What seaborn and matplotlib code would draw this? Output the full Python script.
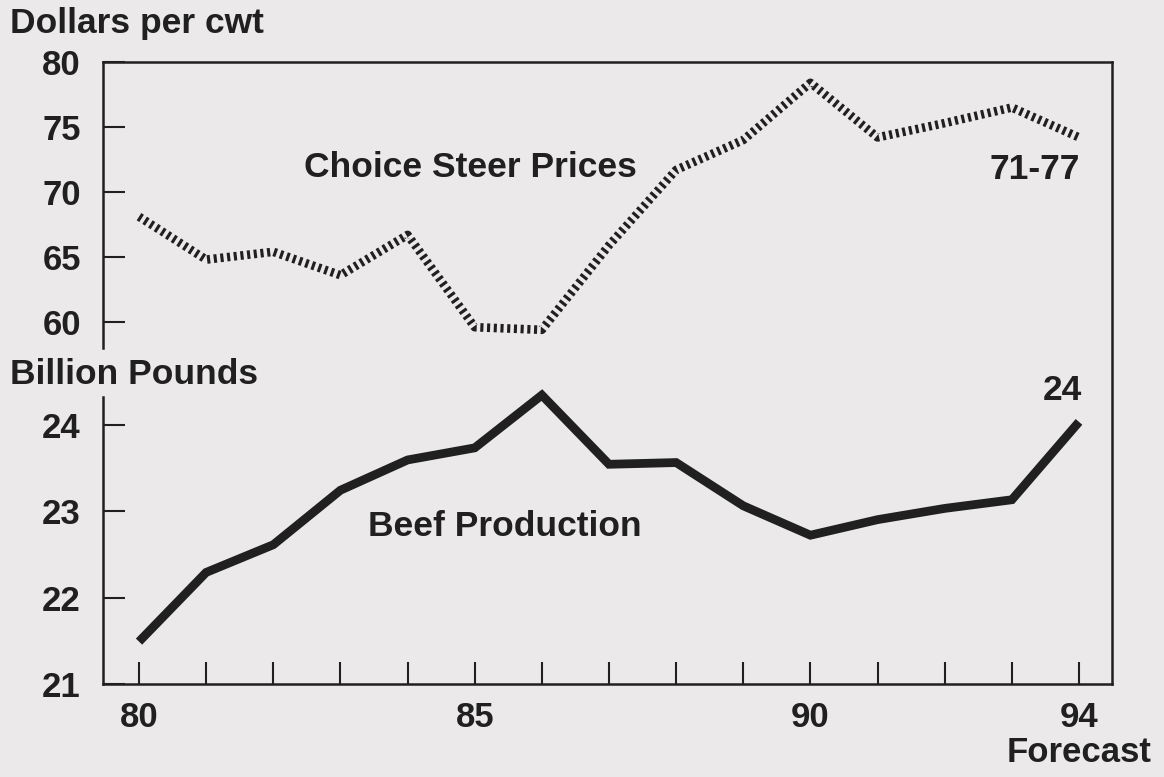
import matplotlib
matplotlib.use('Agg')
import matplotlib.pyplot as plt
import seaborn as sns
import pandas as pd

# data
years = list(range(80, 95))
steer_prices = [68.1, 64.8, 65.4, 63.6, 66.7, 59.6, 59.4, 65.9, 71.7, 74.0,
                78.4, 74.2, 75.3, 76.5, 74.2]
beef_production = [21.49, 22.29, 22.61, 23.24, 23.59, 23.73, 24.34, 23.54, 23.56, 23.06,
                   22.72, 22.90, 23.03, 23.13, 24.03]
price_ticks = [60, 65, 70, 75, 80]
beef_ticks = [21, 22, 23, 24]
x_labels = {80: '80', 85: '85', 90: '90', 94: '94\nForecast'}

df = pd.DataFrame({'year': years, 'price': steer_prices, 'beef': beef_production})

sns.set_theme(style='white')
plt.rcParams['font.family'] = ['Liberation Sans', 'DejaVu Sans']
plt.rcParams['font.weight'] = 'bold'

bg = '#ece9ea'
ink = '#202020'
fs = 25
fs_lab = 25.5

fig = plt.figure(figsize=(11.64, 7.77), dpi=100)
fig.patch.set_facecolor(bg)

# one frame, two scales: price on the top part, beef on the lower part
ax = fig.add_axes([103 / 1164, 93 / 777, 1009 / 1164, 622 / 777])
ax.set_facecolor(bg)
ax_b = ax.twinx()
ax_b.yaxis.tick_left()
ax_b.yaxis.set_label_position('left')

# choice steer prices (hatched line)
sns.lineplot(data=df, x='year', y='price', ax=ax, color=ink, lw=6.2,
             linestyle=(0, (0.36, 0.42)), dash_capstyle='butt')
# beef production (solid)
sns.lineplot(data=df, x='year', y='beef', ax=ax_b, color=ink, lw=6.3,
             solid_capstyle='butt', solid_joinstyle='miter')

ax.set_xlim(80 - 36 / 67.14, 94 + 33 / 67.14)
ax.set_ylim(80 - 622 / 13, 80)
ax_b.set_ylim(21, 21 + 622 / 86.5)

ax.set_xlabel('')
ax.set_ylabel('')
ax_b.set_ylabel('')

ax.set_xticks(years)
ax.set_xticklabels([x_labels.get(y, '') for y in years], fontsize=fs, fontweight='bold',
                   linespacing=1.1)
ax.set_yticks(price_ticks)
ax.set_yticklabels([str(t) for t in price_ticks], fontsize=fs, fontweight='bold')
ax_b.set_yticks(beef_ticks)
ax_b.set_yticklabels([str(t) for t in beef_ticks], fontsize=fs, fontweight='bold')

ax.tick_params(axis='x', direction='in', length=15.5, width=1.5, pad=12, colors=ink,
               bottom=True, top=False)
ax.tick_params(axis='y', direction='in', length=15.5, width=1.5, pad=16, colors=ink,
               left=True, right=False)
ax_b.tick_params(axis='y', direction='in', length=15.5, width=1.5, pad=16, colors=ink,
                 left=True, right=False, labelleft=True, labelright=False)

for s in ax.spines.values():
    s.set_color(ink)
    s.set_linewidth(1.8)
ax.spines['left'].set_bounds(80 - 286 / 13, 80)
for name, s in ax_b.spines.items():
    if name == 'left':
        s.set_visible(True)
        s.set_color(ink)
        s.set_linewidth(1.8)
        s.set_bounds(21, 21 + 287 / 86.5)
    else:
        s.set_visible(False)

# labels
fig.text(10 / 1164, 1 - 33 / 777, 'Dollars per cwt', fontsize=fs_lab, fontweight='bold',
         color=ink, ha='left', va='baseline')
fig.text(10 / 1164, 1 - 384 / 777, 'Billion Pounds', fontsize=fs_lab, fontweight='bold',
         color=ink, ha='left', va='baseline')
ax.text(84.93, 71.9, 'Choice Steer Prices', fontsize=fs_lab, fontweight='bold', color=ink,
        ha='center', va='center')
ax.text(94.02, 71.7, '71-77', fontsize=fs_lab, fontweight='bold', color=ink,
        ha='right', va='center')
ax_b.text(85.45, 22.82, 'Beef Production', fontsize=fs_lab, fontweight='bold', color=ink,
          ha='center', va='center')
ax_b.text(94.05, 24.39, '24', fontsize=fs_lab, fontweight='bold', color=ink,
          ha='right', va='center')

fig.savefig('out.png', dpi=100, facecolor=bg)
